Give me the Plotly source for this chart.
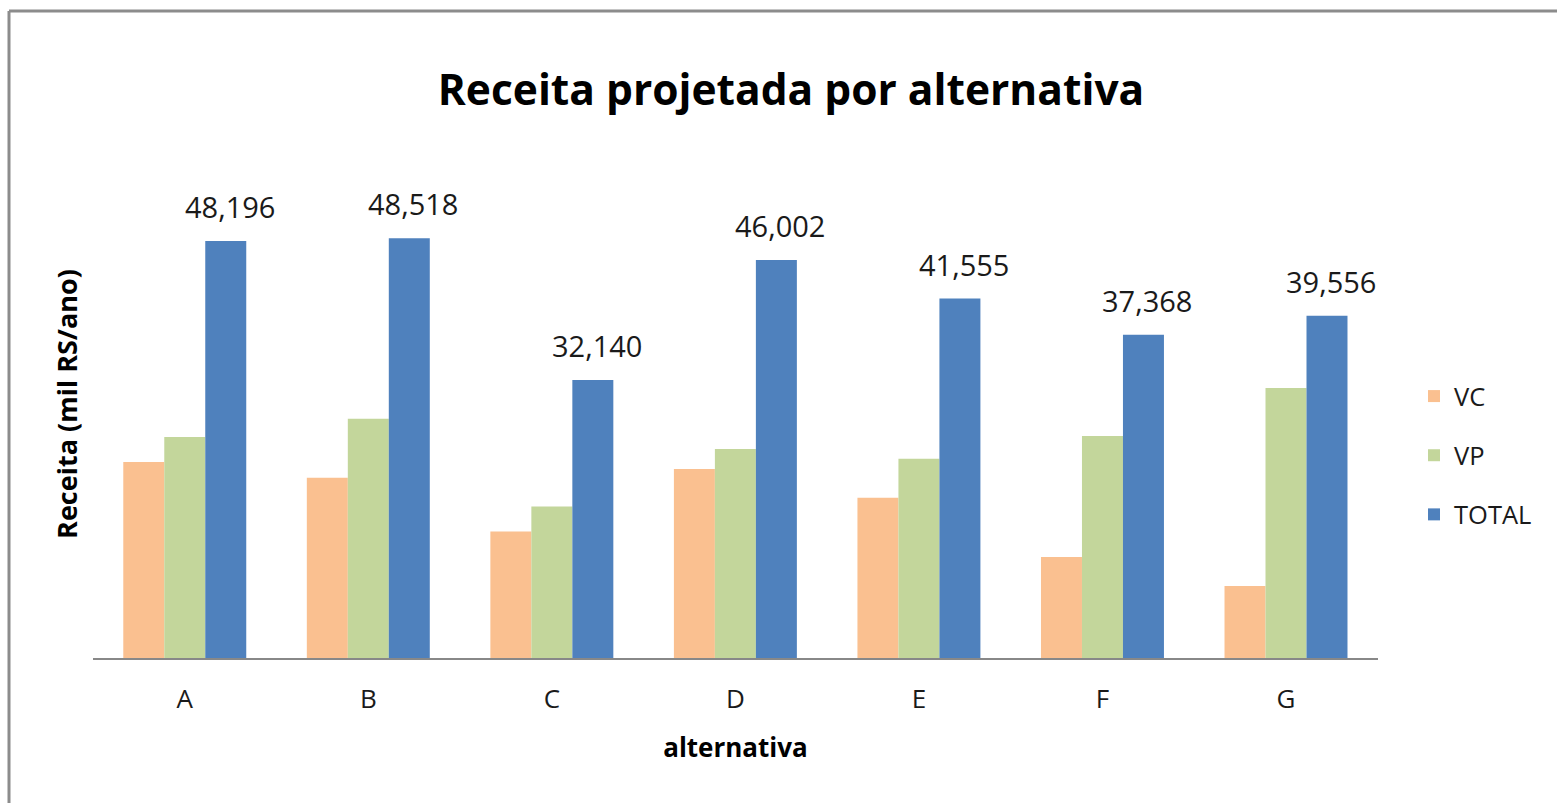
import plotly.graph_objects as go

# Projected revenue per alternative (thousand R$/year)
categories = ["A", "B", "C", "D", "E", "F", "G"]
vc = [22650, 20850, 14620, 21840, 18520, 11690, 8330]
vp = [25546, 27668, 17520, 24162, 23035, 25678, 31226]
total = [48196, 48518, 32140, 46002, 41555, 37368, 39556]

series_names = ["VC", "VP", "TOTAL"]
colors = ["#FAC090", "#C3D69B", "#4F81BD"]

FONT = "Open Sans"

fig = go.Figure()
for name, vals, col in zip(series_names, [vc, vp, total], colors):
    fig.add_trace(go.Bar(
        name=name, x=categories, y=vals,
        marker=dict(color=col, line=dict(width=0)),
        legendgroup=name,
    ))

# value labels above the TOTAL bars
for cat, val in zip(categories, total):
    fig.add_annotation(
        x=cat, y=val, text=f"{val:,}", showarrow=False,
        xanchor="center", yanchor="bottom", xshift=45, yshift=13,
        font=dict(family=FONT, size=29, color="#1a1a1a"),
    )

# chart frame (top and left edges)
W, H = 1557, 803
ml, mr, mt, mb = 93, 179, 150, 145
pw, ph = W - ml - mr, H - mt - mb

def px_x(p):
    return (p - ml) / pw

def px_y(p):
    return (H - mb - p) / ph

frame = dict(color="#8C8C8C", width=3)
fig.add_shape(type="line", xref="paper", yref="paper",
              x0=px_x(9), x1=px_x(W + 5), y0=px_y(11), y1=px_y(11), line=frame)
fig.add_shape(type="line", xref="paper", yref="paper",
              x0=px_x(9), x1=px_x(9), y0=px_y(11), y1=px_y(H + 5), line=frame)

fig.update_layout(
    width=W, height=H,
    margin=dict(l=ml, r=mr, t=mt, b=mb),
    paper_bgcolor="white", plot_bgcolor="white",
    barmode="group", bargap=0.33, bargroupgap=0,
    font=dict(family=FONT, color="#1a1a1a"),
    title=dict(
        text="<b>Receita projetada por alternativa</b>",
        x=791 / W, xref="container", xanchor="center",
        y=1 - 90 / H, yref="container", yanchor="middle",
        font=dict(family=FONT, size=42.5, color="black"),
    ),
    legend=dict(
        x=px_x(1414), y=px_y(373), xanchor="left", yanchor="top",
        font=dict(family=FONT, size=25.5, color="#1a1a1a"),
        tracegroupgap=23, itemwidth=30,
        bgcolor="rgba(0,0,0,0)",
    ),
    showlegend=True,
)

fig.update_xaxes(
    showline=True, linecolor="#888888", linewidth=2,
    ticks="", showgrid=False, ticklabelstandoff=17,
    tickfont=dict(family=FONT, size=26, color="#1a1a1a"),
    title=dict(text="<b>alternativa</b>", standoff=24,
               font=dict(family=FONT, size=26, color="black")),
)
fig.update_yaxes(
    range=[0, 58730], showline=False, showgrid=False, zeroline=False,
    showticklabels=False, ticks="",
    title=dict(text="<b>Receita (mil RS/ano)</b>", standoff=6,
               font=dict(family=FONT, size=27, color="black")),
)

fig.write_html("out.html")
